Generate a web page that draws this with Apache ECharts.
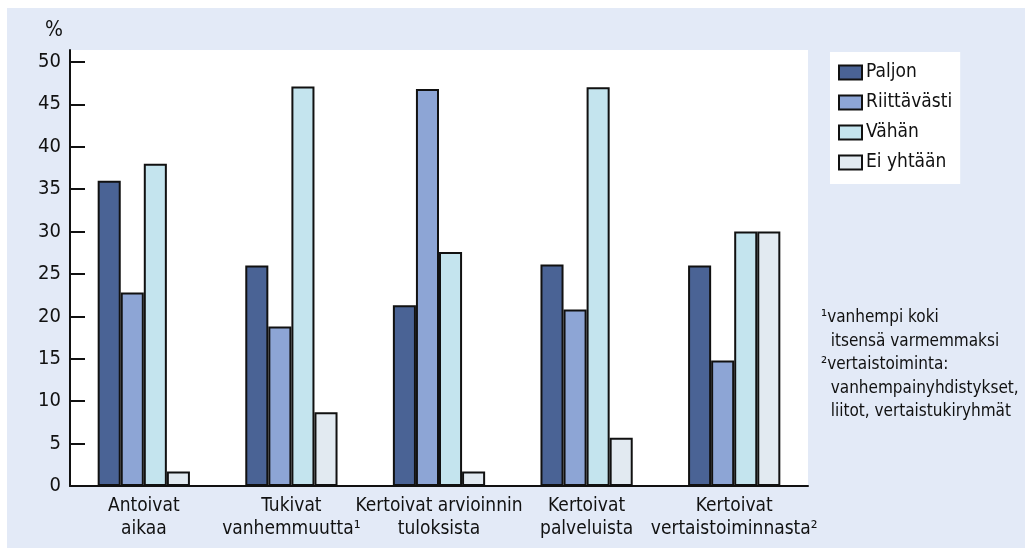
<!DOCTYPE html>
<html>
<head>
<meta charset="utf-8">
<script src="https://cdn.jsdelivr.net/npm/echarts@6/dist/echarts.min.js"></script>
<style>
html,body{margin:0;padding:0;background:#ffffff;}
#chart{width:1025px;height:551px;}
</style>
</head>
<body>
<div id="chart"></div>
<script>
var categories = ['Antoivat\naikaa', 'Tukivat\nvanhemmuutta¹', 'Kertoivat arvioinnin\ntuloksista', 'Kertoivat\npalveluista', 'Kertoivat\nvertaistoiminnasta²'];
var seriesNames = ['Paljon', 'Riittävästi', 'Vähän', 'Ei yhtään'];
var paljon = [36, 26, 21.3, 26.1, 26];
var riittavasti = [22.8, 18.8, 46.8, 20.8, 14.8];
var vahan = [38, 47.1, 27.6, 47, 30];
var eiYhtaan = [1.7, 8.7, 1.7, 5.7, 30];
var yTicks = [0, 5, 10, 15, 20, 25, 30, 35, 40, 45, 50];
var footnotes = ['¹vanhempi koki', '  itsensä varmemmaksi', '²vertaistoiminta:', '  vanhempainyhdistykset,', '  liitot, vertaistukiryhmät'];

var colors = ['#4a6395', '#8da5d5', '#c4e4ee', '#e2eaf1'];
var FONT = '"Liberation Sans Narrow", "DejaVu Sans Condensed", "Noto Sans", sans-serif';
var dataSets = [paljon, riittavasti, vahan, eiYhtaan];

var chart = echarts.init(document.getElementById('chart'), null, {renderer: 'canvas'});
var option = {
  animation: false,
  backgroundColor: '#ffffff',
  textStyle: {fontFamily: FONT},
  graphic: [
    {type: 'rect', z: -10, silent: true, shape: {x: 7, y: 8, width: 1018, height: 540}, style: {fill: '#e3eaf7'}},
    {type: 'rect', z: -9, silent: true, shape: {x: 70, y: 50, width: 738, height: 436}, style: {fill: '#ffffff'}},
    {type: 'text', left: 45, top: 20, style: {text: '%', fontFamily: FONT, fontSize: 21, fill: '#111'}},
    {type: 'text', left: 821, top: 306, style: {text: footnotes.join('\n'), fontFamily: FONT, fontSize: 17, fill: '#111', lineHeight: 23.5}}
  ],
  legend: {
    orient: 'vertical',
    left: 830,
    top: 52,
    data: seriesNames,
    backgroundColor: '#ffffff',
    padding: [11, 8, 12, 8],
    itemWidth: 23,
    itemHeight: 14,
    itemGap: 11,
    icon: 'rect',
    textStyle: {fontFamily: FONT, fontSize: 19, color: '#111', padding: [0, 0, 0, -1], lineHeight: 19},
    itemStyle: {borderColor: '#111', borderWidth: 2}
  },
  grid: {left: 70, right: 217, top: 50, bottom: 65, containLabel: false},
  xAxis: {
    type: 'category',
    data: categories,
    axisLine: {lineStyle: {color: '#111', width: 2}},
    axisTick: {show: false},
    axisLabel: {fontFamily: FONT, fontSize: 19, color: '#111', lineHeight: 23, margin: 9, interval: 0}
  },
  yAxis: {
    type: 'value',
    min: 0,
    max: 51.4,
    interval: 5,
    splitLine: {show: false},
    axisLine: {show: true, lineStyle: {color: '#111', width: 2}},
    axisTick: {show: true, inside: true, length: 15, lineStyle: {color: '#111', width: 2}, customValues: yTicks},
    axisLabel: {fontFamily: FONT, fontSize: 20, color: '#111', margin: 9, customValues: yTicks}
  },
  series: seriesNames.map(function (n, i) {
    return {
      name: n,
      type: 'bar',
      data: dataSets[i],
      barGap: '0%',
      barCategoryGap: '37.5%',
      itemStyle: {color: colors[i], borderColor: '#111', borderWidth: 2}
    };
  })
};
chart.setOption(option);
</script>
</body>
</html>
